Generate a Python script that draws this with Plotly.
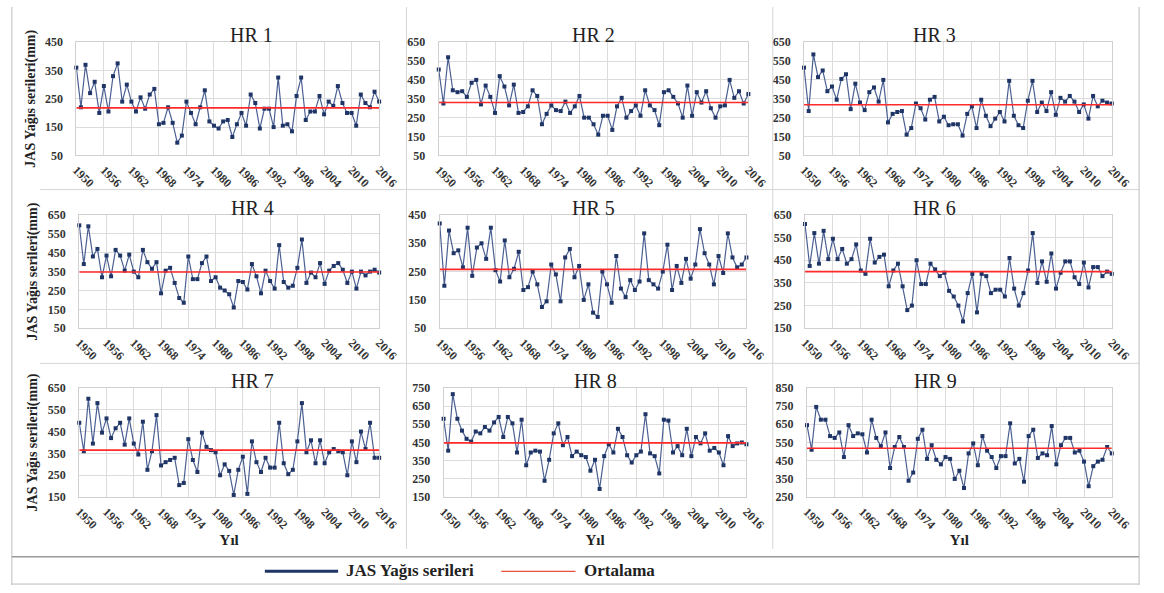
import plotly.graph_objects as go

YEARS = list(range(1950, 2017))

HR1 = [360, 220, 370, 270, 310, 200, 295, 205, 330, 375, 240, 300, 240, 205, 255, 215, 265, 285,
       160, 165, 220, 165, 95, 120, 240, 200, 160, 220, 280, 170, 155, 145, 170, 175, 115, 160,
       200, 155, 265, 235, 145, 215, 215, 150, 325, 155, 160, 135, 260, 325, 175, 205, 205, 260,
       195, 240, 225, 295, 235, 200, 200, 155, 265, 235, 220, 275, 240]
HR2 = [505, 325, 570, 395, 385, 390, 360, 435, 450, 320, 420, 360, 275, 470, 415, 315, 425, 275,
       280, 310, 395, 365, 215, 270, 315, 290, 285, 335, 275, 310, 365, 250, 250, 215, 160, 260,
       260, 185, 310, 355, 250, 285, 315, 260, 395, 315, 290, 210, 385, 395, 360, 325, 250, 420,
       260, 385, 330, 390, 300, 250, 310, 315, 450, 355, 390, 325, 375]
HR3 = [515, 285, 585, 465, 500, 390, 415, 345, 455, 480, 295, 430, 330, 290, 385, 410, 335, 450,
       225, 270, 280, 285, 160, 195, 325, 300, 240, 345, 360, 230, 255, 210, 215, 215, 155, 270,
       310, 195, 345, 260, 205, 245, 280, 230, 445, 260, 210, 195, 340, 445, 280, 330, 285, 385,
       265, 355, 335, 365, 335, 280, 320, 245, 365, 310, 340, 330, 325]
HR4 = [595, 390, 590, 430, 470, 320, 435, 325, 465, 435, 355, 440, 350, 320, 465, 400, 365, 400,
       235, 355, 370, 290, 210, 185, 430, 310, 310, 395, 430, 300, 320, 265, 250, 230, 160, 300,
       295, 255, 390, 325, 235, 355, 300, 260, 490, 295, 265, 275, 370, 520, 290, 345, 320, 395,
       285, 355, 380, 395, 360, 290, 350, 260, 350, 330, 350, 360, 345]
HR5 = [420, 200, 395, 315, 325, 265, 405, 235, 335, 350, 295, 405, 255, 215, 360, 230, 260, 320,
       185, 195, 250, 205, 125, 145, 275, 240, 145, 300, 330, 230, 270, 150, 205, 105, 90, 250,
       205, 140, 305, 190, 160, 220, 185, 215, 385, 220, 205, 190, 250, 345, 185, 270, 210, 295,
       225, 275, 400, 315, 275, 205, 305, 245, 385, 300, 265, 275, 300]
HR6 = [610, 425, 570, 435, 580, 455, 545, 455, 500, 435, 455, 520, 405, 390, 545, 440, 465, 475,
       335, 405, 435, 335, 230, 250, 450, 345, 345, 435, 410, 380, 395, 315, 290, 250, 180, 305,
       390, 220, 390, 380, 305, 320, 320, 290, 460, 325, 250, 305, 405, 570, 350, 445, 355, 480,
       325, 395, 445, 445, 375, 345, 440, 330, 420, 420, 380, 400, 390]
HR7 = [490, 360, 600, 395, 580, 445, 510, 420, 465, 490, 390, 510, 395, 345, 495, 275, 360, 525,
       295, 310, 320, 330, 205, 215, 415, 320, 265, 445, 380, 365, 355, 250, 300, 270, 160, 275,
       335, 165, 405, 310, 265, 330, 285, 285, 490, 305, 255, 275, 405, 580, 355, 410, 305, 410,
       305, 355, 370, 360, 355, 250, 405, 310, 450, 370, 490, 330, 330]
HR8 = [580, 405, 715, 580, 515, 470, 455, 510, 500, 535, 515, 560, 590, 480, 590, 555, 395, 575,
       325, 395, 405, 400, 240, 355, 500, 555, 435, 480, 375, 400, 380, 370, 295, 355, 195, 375,
       440, 395, 525, 480, 380, 340, 380, 400, 605, 390, 375, 280, 575, 570, 395, 430, 380, 525,
       375, 480, 445, 500, 405, 420, 395, 325, 485, 430, 445, 450, 440]
HR9 = [645, 510, 745, 675, 675, 585, 575, 605, 470, 645, 585, 600, 595, 495, 675, 575, 530, 605,
       410, 525, 580, 525, 340, 385, 570, 620, 460, 535, 455, 430, 470, 460, 350, 395, 300, 490,
       545, 425, 585, 505, 470, 410, 475, 475, 655, 435, 460, 335, 585, 620, 465, 490, 480, 640,
       430, 535, 575, 575, 495, 505, 445, 310, 420, 445, 455, 525, 490]

SERIES = [HR1, HR2, HR3, HR4, HR5, HR6, HR7, HR8, HR9]
TITLES = ["HR 1", "HR 2", "HR 3", "HR 4", "HR 5", "HR 6", "HR 7", "HR 8", "HR 9"]
MEANS = [218, 330, 318, 348, 258, 400, 365, 448, 518]
Y_RANGES = [(50, 450), (50, 650), (50, 650), (50, 650), (50, 450),
            (150, 650), (150, 650), (150, 750), (250, 850)]
X_TICKS = list(range(1950, 2017, 6))

W, H = 1164, 593
# plot-area boxes in pixels: (left, right, top, bottom)
BOXES = [
    (72, 382, 36, 152), (443, 760, 36, 152), (817, 1132, 36, 152),
    (75, 382, 213, 329), (444, 758, 213, 329), (818, 1132, 213, 329),
    (75, 382, 390, 502), (448, 758, 390, 502), (820, 1132, 390, 502),
]

SERIF = "Liberation Serif, Times New Roman, DejaVu Serif, serif"
NAVY = "#1f3566"
RED = "#ff2a2a"
TXT = "#222222"


def sfont(size, bold=True, color=TXT):
    return dict(family=SERIF, size=size, color=color, weight="bold" if bold else "normal")


fig = go.Figure()
annotations = []
shapes = []

for i, (vals, title, mean, yr, box) in enumerate(zip(SERIES, TITLES, MEANS, Y_RANGES, BOXES)):
    n = i + 1
    xa = "x" if n == 1 else f"x{n}"
    ya = "y" if n == 1 else f"y{n}"
    fig.add_trace(go.Scatter(
        x=YEARS, y=vals, xaxis=xa, yaxis=ya, mode="lines+markers",
        line=dict(color="#4a5f92", width=1.2),
        marker=dict(symbol="square", size=4, color=NAVY),
        cliponaxis=False, showlegend=False, hoverinfo="x+y"))
    fig.add_trace(go.Scatter(
        x=[YEARS[0], YEARS[-1]], y=[mean, mean], xaxis=xa, yaxis=ya, mode="lines",
        line=dict(color=RED, width=1.6), showlegend=False, hoverinfo="y"))

    l, r, t, b = box
    ax_common = dict(
        showgrid=True, gridcolor="#dcdcdc", gridwidth=1,
        showline=True, linecolor="#d0d0d0", mirror=True, zeroline=False,
        ticks="", tickfont=sfont(12, True, "#333333"),
    )
    fig.update_layout(**{
        ("xaxis" if n == 1 else f"xaxis{n}"): dict(
            ax_common, domain=[l / W, r / W], anchor=ya, range=[1950, 2016],
            tickvals=X_TICKS, ticktext=[str(v) for v in X_TICKS], tickangle=45,
            ticklabelstandoff=2,
            title=dict(text="Yıl", font=sfont(15), standoff=0) if n >= 7 else None),
        ("yaxis" if n == 1 else f"yaxis{n}"): dict(
            ax_common, domain=[1 - b / H, 1 - t / H], anchor=xa, range=list(yr),
            tick0=yr[0], dtick=100, ticklabelstandoff=10,
            title=dict(text="JAS Yağıs serileri(mm)", font=sfont(14),
                       standoff=6) if n in (1, 4, 7) else None),
    })
    annotations.append(dict(
        text=title, x=(l + r) / 2 / W, y=1 - (t - 7) / H, xref="paper", yref="paper",
        showarrow=False, font=sfont(20, False), yanchor="middle"))


# panel separators and outer frame
def px_line(x0, y0, x1, y1, color="#d6d6d6", width=1):
    shapes.append(dict(type="line", xref="paper", yref="paper",
                       x0=x0 / W, x1=x1 / W, y0=1 - y0 / H, y1=1 - y1 / H,
                       line=dict(color=color, width=width)))


px_line(410, 0, 410, 555)
px_line(785, 0, 785, 555)
px_line(35, 187, 1160, 187)
px_line(35, 365, 1160, 365)
px_line(6, 0, 6, 592, "#bdbdbd")
px_line(1160, 0, 1160, 592, "#bdbdbd")
px_line(6, 563, 1160, 563, "#9a9a9a", 1.5)
px_line(6, 591, 1160, 591, "#bdbdbd")

# legend
px_line(265, 578, 340, 578, NAVY, 3)
px_line(507, 578, 583, 578, "#e8503c", 1.2)
annotations.append(dict(text="JAS Yağıs serileri", x=346 / W, y=1 - 577 / H,
                        xref="paper", yref="paper", showarrow=False,
                        xanchor="left", yanchor="middle", font=sfont(17)))
annotations.append(dict(text="Ortalama", x=590 / W, y=1 - 577 / H,
                        xref="paper", yref="paper", showarrow=False,
                        xanchor="left", yanchor="middle", font=sfont(17)))

fig.update_layout(
    width=W, height=H, margin=dict(l=0, r=0, t=0, b=0),
    paper_bgcolor="white", plot_bgcolor="white",
    annotations=annotations, shapes=shapes, showlegend=False,
)

fig.write_html("out.html")
